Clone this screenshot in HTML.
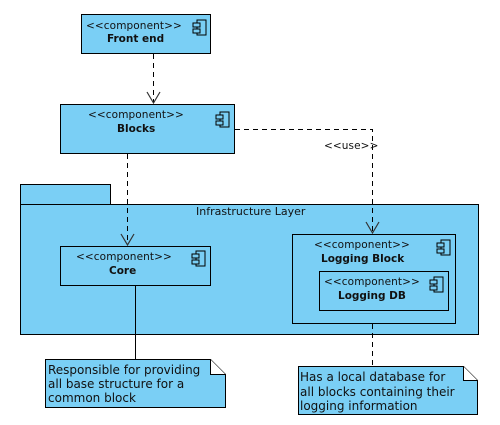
<!DOCTYPE html>
<html><head><meta charset="utf-8"><style>
html,body{margin:0;padding:0;background:#fff;}
svg{display:block;}
text{font-family:"DejaVu Sans","Liberation Sans",sans-serif;font-size:11px;fill:#111;}
.b{font-weight:bold;font-size:10.5px;}
.s{font-size:10.5px;letter-spacing:0.1px;}
.n{font-size:12px;}
</style></head><body>
<svg width="500" height="425" viewBox="0 0 500 425" xmlns="http://www.w3.org/2000/svg">
<defs>
<g id="ic"><rect x="4" y="0" width="9" height="15" fill="none" stroke="#000"/><rect x="0" y="3" width="7" height="4" fill="#7acff5" stroke="#000"/><rect x="0" y="9" width="7" height="4" fill="#7acff5" stroke="#000"/></g>
</defs>
<g stroke="#000" stroke-width="1" fill="#7acff5">
<rect x="20.5" y="184.5" width="90" height="20"/>
<rect x="20.5" y="204.5" width="458" height="130"/>
<rect x="81.5" y="14.5" width="129" height="39"/>
<rect x="60.5" y="104.5" width="174" height="49"/>
<rect x="60.5" y="246.5" width="150" height="39"/>
<rect x="292.5" y="234.5" width="163" height="89"/>
<rect x="319.5" y="271.5" width="129" height="39"/>
<path d="M45.5 359.5 H210.5 L225.5 374.5 V407.5 H45.5 Z"/>
<path d="M210.5 359.5 V374.5 H225.5" fill="#fff"/>
<path d="M298.5 366.5 H463.5 L477.5 380.5 V414.5 H298.5 Z"/>
<path d="M463.5 366.5 V380.5 H477.5" fill="#fff"/>
</g>
<use href="#ic" x="193" y="20"/>
<use href="#ic" x="216" y="112"/>
<use href="#ic" x="192" y="251"/>
<use href="#ic" x="437" y="240"/>
<use href="#ic" x="430" y="277"/>
<g stroke="#000" fill="none" stroke-dasharray="5,4">
<line x1="153.5" y1="54" x2="153.5" y2="103"/>
<line x1="127.5" y1="154" x2="127.5" y2="245"/>
<polyline points="235,129.5 372.5,129.5 372.5,233"/>
<line x1="372.5" y1="324" x2="372.5" y2="366"/>
</g>
<line x1="135.5" y1="286" x2="135.5" y2="359" stroke="#000"/>
<g stroke="#333" fill="none" stroke-width="1.2">
<polyline points="147,92 153.5,103 160,92"/>
<polyline points="121,234 127.5,245 134,234"/>
<polyline points="366,222 372.5,233 379,222"/>
</g>
<text x="86" y="29" class="s">&lt;&lt;component&gt;&gt;</text>
<text x="107" y="42" class="b">Front end</text>
<text x="88" y="118" class="s">&lt;&lt;component&gt;&gt;</text>
<text x="117" y="132" class="b">Blocks</text>
<text x="76" y="260" class="s">&lt;&lt;component&gt;&gt;</text>
<text x="109" y="274" class="b">Core</text>
<text x="314" y="248" class="s">&lt;&lt;component&gt;&gt;</text>
<text x="321" y="262" class="b">Logging Block</text>
<text x="324" y="285" class="s">&lt;&lt;component&gt;&gt;</text>
<text x="338" y="299" class="b">Logging DB</text>
<text x="196" y="215">Infrastructure Layer</text>
<text x="324" y="149" class="s">&lt;&lt;use&gt;&gt;</text>
<text x="48" y="374" class="n">Responsible for providing</text>
<text x="48" y="388" class="n">all base structure for a</text>
<text x="48" y="402" class="n">common block</text>
<text x="300" y="381" class="n">Has a local database for</text>
<text x="300" y="396" class="n">all blocks containing their</text>
<text x="300" y="410" class="n">logging information</text>
</svg>
</body></html>
